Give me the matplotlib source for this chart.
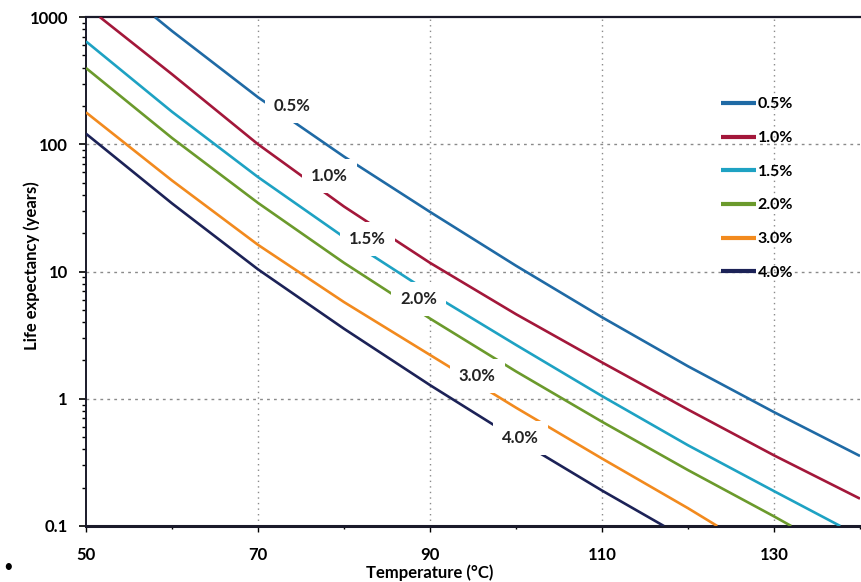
import matplotlib
matplotlib.use('Agg')
import matplotlib.pyplot as plt
from matplotlib.ticker import FixedLocator, LogLocator, NullFormatter

plt.rcParams['font.family'] = ['Lato', 'DejaVu Sans']

# life expectancy (years) vs temperature, one curve per level
series = ['0.5%', '1.0%', '1.5%', '2.0%', '3.0%', '4.0%']
colors = ['#1f6aa5', '#a3173a', '#1ea2c3', '#6b9a2c', '#f28a1e', '#1c2257']

t_05 = [58.0, 60, 70, 80, 90, 100, 110, 120, 130, 140]
life_05 = [1000, 776, 234, 80, 29.4, 11.1, 4.37, 1.8, 0.785, 0.355]

t_10 = [51.6, 60, 70, 80, 90, 100, 110, 120, 130, 140]
life_10 = [1000, 355, 100, 32.4, 11.7, 4.62, 1.93, 0.822, 0.359, 0.164]

t_15 = [50, 60, 70, 80, 90, 100, 110, 120, 130, 137.7]
life_15 = [643, 180, 55.2, 18.6, 6.8, 2.65, 1.05, 0.431, 0.188, 0.1]

t_20 = [50, 60, 70, 80, 90, 100, 110, 120, 130, 132.0]
life_20 = [397, 112, 34.6, 11.7, 4.27, 1.64, 0.66, 0.275, 0.119, 0.1]

t_30 = [50, 60, 70, 80, 90, 100, 110, 120, 123.4]
life_30 = [178, 51.9, 16.2, 5.75, 2.21, 0.851, 0.339, 0.138, 0.1]

t_40 = [50, 60, 70, 80, 90, 100, 110, 117.2]
life_40 = [121, 34.3, 10.4, 3.55, 1.28, 0.484, 0.19, 0.1]

temps = [t_05, t_10, t_15, t_20, t_30, t_40]
lifes = [life_05, life_10, life_15, life_20, life_30, life_40]

# where the in-plot labels sit (temperature, years)
label_pos = [(74.0, 200), (78.3, 56), (82.7, 17.9), (88.7, 6.1), (95.5, 1.51), (100.5, 0.49)]

fig = plt.figure(figsize=(8.61, 5.82), dpi=100)
ax = fig.add_axes([86/861, 1-526/582, 774/861, 509/582])

for t, l, name, c in zip(temps, lifes, series, colors):
    ax.plot(t, l, color=c, lw=1.9, label=name, zorder=3, solid_capstyle='butt')

for (x, y), name in zip(label_pos, series):
    ax.text(x, y, name, ha='center', va='center', fontsize=12, fontweight='bold',
            color='#222222', zorder=5,
            bbox=dict(boxstyle='square,pad=0.55', fc='white', ec='none'))

ax.set_yscale('log')
ax.set_xlim(50, 140)
ax.set_ylim(0.1, 1000)

ax.xaxis.set_major_locator(FixedLocator([50, 70, 90, 110, 130]))
ax.xaxis.set_minor_locator(FixedLocator([60, 80, 100, 120, 140]))
ax.yaxis.set_major_locator(FixedLocator([0.1, 1, 10, 100, 1000]))
ax.yaxis.set_minor_locator(LogLocator(base=10, subs=range(2, 10)))
ax.yaxis.set_minor_formatter(NullFormatter())
ax.set_yticklabels(['0.1', '1', '10', '100', '1000'])

ax.tick_params(axis='y', which='major', direction='out', length=5, width=1.2, pad=8,
               labelsize=12)
ax.tick_params(axis='y', which='minor', direction='out', length=3, width=1)
ax.tick_params(axis='x', which='major', direction='out', length=4, width=1, pad=11,
               labelsize=12)
ax.tick_params(axis='x', which='minor', direction='out', length=2, width=1)
for lab in ax.get_xticklabels() + ax.get_yticklabels():
    lab.set_fontweight('bold')

# dotted grid only on interior lines
for gx in [70, 90, 110, 130]:
    ax.axvline(gx, color='#8a8a8a', lw=1, ls=(0, (1, 3)), zorder=1)
for gy in [1, 10, 100]:
    ax.axhline(gy, color='#8a8a8a', lw=1, ls=(0, (2, 3)), zorder=1)

for side in ['left', 'top', 'bottom']:
    ax.spines[side].set_color('#1a1a2a')
ax.spines['bottom'].set_linewidth(2.2)
ax.spines['top'].set_linewidth(1.6)
ax.spines['left'].set_linewidth(1.4)
ax.spines['right'].set_visible(False)

leg = ax.legend(loc='upper left', bbox_to_anchor=(721/861, 1-(103.3-6)/582),
                bbox_transform=fig.transFigure, frameon=False, borderpad=0,
                borderaxespad=0, handlelength=2.2, handletextpad=0.1,
                labelspacing=1.22, prop={'size': 11.5, 'weight': 'bold'})
for h in leg.get_lines():
    h.set_linewidth(3)

fig.text(32/861, 1-266/582, 'Life expectancy (years)', rotation=90,
         ha='center', va='center', fontsize=12, fontweight='bold')
fig.text(430/861, 1-573/582, 'Temperature (°C)', ha='center', va='center',
         fontsize=12, fontweight='bold')
fig.text(8/861, 1-567/582, '•', ha='center', va='center', fontsize=12)

fig.savefig('out.png', dpi=100)
